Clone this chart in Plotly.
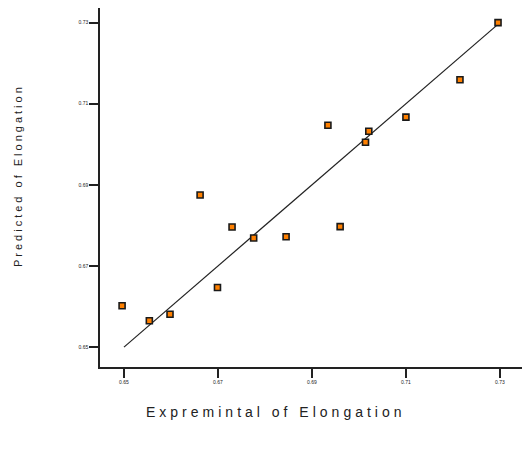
import plotly.graph_objects as go

# Experimental vs. predicted elongation
experimental = [0.6496, 0.6554, 0.6598, 0.6662, 0.6699, 0.6730, 0.6776, 0.6845,
                0.6934, 0.6960, 0.7021, 0.7014, 0.7100, 0.7215, 0.7296]
predicted = [0.6602, 0.6565, 0.6581, 0.6875, 0.6647, 0.6796, 0.6769, 0.6772,
             0.7047, 0.6797, 0.7032, 0.7005, 0.7067, 0.7159, 0.7300]

# Reference line (predicted = experimental)
fit_x = [0.65, 0.73]
fit_y = [0.65, 0.73]

tick_vals = [0.65, 0.67, 0.69, 0.71, 0.73]
tick_text = ["0.65", "0.67", "0.69", "0.71", "0.73"]

x_title = "Expremintal of Elongation"
y_title = "Predicted of Elongation"

fig = go.Figure()
fig.add_trace(go.Scatter(
    x=fit_x, y=fit_y, mode="lines",
    line=dict(color="#222222", width=1.2),
    hoverinfo="skip", showlegend=False,
))
fig.add_trace(go.Scatter(
    x=experimental, y=predicted, mode="markers",
    marker=dict(symbol="square", size=6, color="#FF8000",
                line=dict(color="#1a1a1a", width=1.6)),
    showlegend=False,
))

axis_common = dict(
    showgrid=False, zeroline=False, showline=True,
    linecolor="#222222", linewidth=1.5,
    ticks="outside", ticklen=9, tickwidth=1.5, tickcolor="#222222",
    tickvals=tick_vals, ticktext=tick_text,
    tickfont=dict(family="Liberation Sans", size=5, color="#222222"),
)

fig.update_xaxes(range=[0.6449, 0.7347], **axis_common)
fig.update_yaxes(range=[0.6451, 0.7336], **axis_common)

# Axis titles as paper-anchored annotations with wide letter spacing
fig.add_annotation(
    text=f'<span style="letter-spacing:4px">{x_title}</span>',
    xref="paper", yref="paper", x=(276 - 100) / 422, y=-(412 - 367) / 359,
    xanchor="center", yanchor="middle", showarrow=False,
    font=dict(family="Liberation Sans", size=14, color="#222222"),
)
fig.add_annotation(
    text=f'<span style="letter-spacing:3px">{y_title}</span>',
    xref="paper", yref="paper", x=-(100 - 18) / 422, y=(367 - 176) / 359,
    xanchor="center", yanchor="middle", textangle=-90, showarrow=False,
    font=dict(family="Liberation Sans", size=11, color="#222222"),
)

fig.update_layout(
    width=523, height=452,
    margin=dict(l=100, r=1, t=8, b=85),
    plot_bgcolor="white", paper_bgcolor="white",
)

fig.write_html("out.html")
